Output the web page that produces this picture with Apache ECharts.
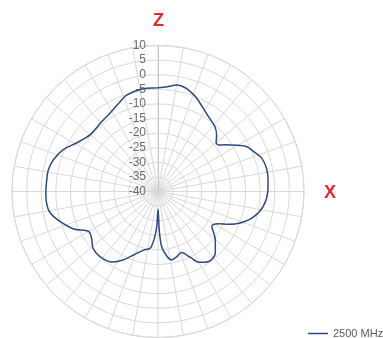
<!DOCTYPE html>
<html>
<head>
<meta charset="utf-8">
<script src="https://cdn.jsdelivr.net/npm/echarts@6/dist/echarts.min.js"></script>
<style>
  html, body { margin: 0; padding: 0; background: #fff; }
  #chart { width: 383px; height: 338px; }
</style>
</head>
<body>
<div id="chart"></div>
<script>
// Radiation pattern, 2500 MHz, gain in dB versus angle (degrees, clockwise from Z)
const angleDeg = [0, 5, 10, 15, 20, 23, 30, 34, 41, 46, 50, 53, 55, 60, 63, 67, 72, 78, 84, 90,
  98, 105, 111, 115, 118, 121, 123, 127, 130, 137, 144, 150, 154, 159, 164, 169, 172, 176, 178,
  180, 182, 184, 186, 188, 194, 201, 207, 213, 222, 229, 235, 240, 246, 253, 259, 265, 270, 277,
  281, 287, 294, 301, 310, 321, 328, 336, 342, 350, 360];
const gainDb = [-4.5, -4.0, -3.0, -3.3, -4.6, -5.6, -8.0, -9.1, -10.4, -12.1, -14.0, -13.6, -12.1, -8.4, -6.0, -4.6, -2.7, -2.0, -2.1, -2.4,
  -3.6, -6.2, -9.9, -13.5, -16.5, -18.0, -18.0, -16.0, -14.4, -11.2, -10.4, -12.0, -15.0, -17.6, -16.8, -16.1, -17.5, -20.8, -26.0,
  -34.0, -28.0, -24.5, -22.0, -20.3, -19.3, -16.7, -13.7, -11.2, -10.1, -10.5, -12.2, -12.6, -8.4, -4.9, -2.3, -1.6, -1.6, -1.7,
  -1.7, -2.6, -4.6, -7.6, -9.7, -9.3, -8.6, -6.9, -5.3, -4.5, -4.5];
const seriesName = '2500 MHz';
const radiusMin = -40, radiusMax = 10, radiusStep = 5;

const chart = echarts.init(document.getElementById('chart'), null, { renderer: 'canvas' });
const gridColor = '#d9d9d9';
const lineColor = '#2f4a7f';
const fontFamily = "'Liberation Sans', Arial, sans-serif";

chart.setOption({
  animation: false,
  backgroundColor: '#ffffff',
  polar: { center: [158, 191.5], radius: 146 },
  angleAxis: {
    type: 'value', min: 0, max: 360, interval: 10, startAngle: 90, clockwise: true,
    axisLine: { show: true, lineStyle: { color: gridColor, width: 1 } },
    axisTick: { show: false },
    axisLabel: { show: false },
    splitLine: { show: true, lineStyle: { color: gridColor, width: 1 } }
  },
  radiusAxis: {
    type: 'value', min: radiusMin, max: radiusMax, interval: radiusStep,
    axisLine: { show: true, lineStyle: { color: '#c8c8c8', width: 1 } },
    axisTick: { show: false },
    axisLabel: { show: true, color: '#6b6b6b', fontSize: 12, fontFamily: fontFamily, margin: 12 },
    splitLine: { show: true, lineStyle: { color: gridColor, width: 1 } }
  },
  legend: {
    data: [{ name: seriesName, icon: 'rect' }],
    left: 303, top: 323, itemWidth: 20, itemHeight: 1.5, itemGap: 5,
    itemStyle: { color: lineColor },
    textStyle: { color: '#595959', fontSize: 11, fontFamily: fontFamily }
  },
  graphic: [
    { type: 'text', left: 153, top: 12, style: { text: 'Z', fill: '#e8262b', font: "bold 18px 'Liberation Sans', Arial" } },
    { type: 'text', left: 324, top: 184, style: { text: 'X', fill: '#e8262b', font: "bold 18px 'Liberation Sans', Arial" } }
  ],
  series: [{
    name: seriesName, type: 'line', coordinateSystem: 'polar',
    data: angleDeg.map((a, i) => [gainDb[i], a]),
    symbol: 'none', smooth: 0.3,
    lineStyle: { color: lineColor, width: 1.5 },
    itemStyle: { color: lineColor }
  }]
});
</script>
</body>
</html>
